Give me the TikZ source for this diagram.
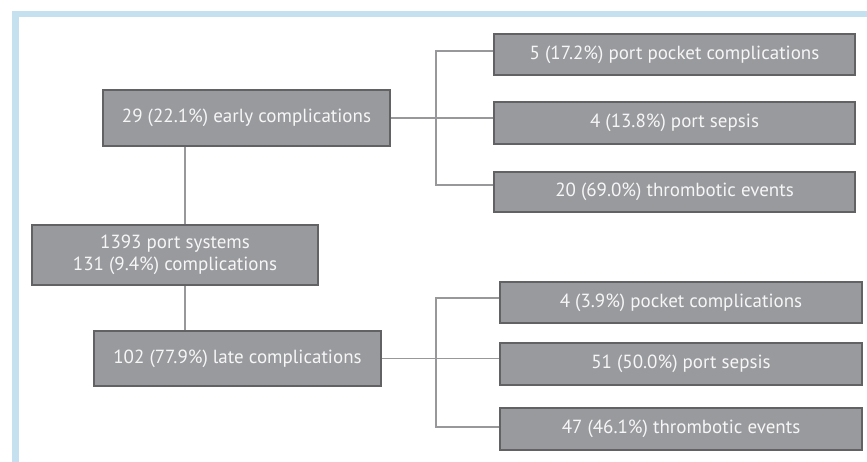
\documentclass[tikz,border=0pt]{standalone}
\usepackage{fontspec}
\setmainfont{PT Sans}
\usetikzlibrary{positioning}

\definecolor{framecol}{RGB}{197,225,239}
\definecolor{boxfill}{RGB}{153,154,158}
\definecolor{boxline}{RGB}{98,98,101}
\definecolor{linkcol}{RGB}{152,152,154}
\definecolor{txtcol}{RGB}{246,246,246}

\tikzset{
    box/.style={draw=boxline, fill=boxfill, line width=2.4pt, text=txtcol,
        inner sep=0pt, align=center, font=\fontsize{19}{22}\selectfont},
    link/.style={draw=linkcol, line width=1.8pt}
}

\begin{document}
\begin{tikzpicture}[x=1pt,y=1pt,yscale=-1,xscale=1]
        \useasboundingbox (0,0) rectangle (867,462);
        %Frame
        \fill[framecol] (12,11) rectangle (867,17);
        \fill[framecol] (12,11) rectangle (19,462);

        % Left column
        \node[box, minimum width=286.6pt, minimum height=55.6pt] (early) at (246.5,118) {29 (22.1\%) early complications};
        \node[box, minimum width=285.6pt, minimum height=59.6pt] (root) at (175,255) {1393 port systems\\131 (9.4\%) complications};
        \node[box, minimum width=286.6pt, minimum height=54.6pt] (late) at (237.5,358.5) {102 (77.9\%) late complications};

        % Early branches
        \node[box, minimum width=360.6pt, minimum height=40.6pt] (upocket) at (674.5,54.5) {5 (17.2\%) port pocket complications};
        \node[box, minimum width=360.6pt, minimum height=41.6pt] (usepsis) at (674.5,123) {4 (13.8\%) port sepsis};
        \node[box, minimum width=360.6pt, minimum height=39.6pt] (uthromb) at (674.5,192) {20 (69.0\%) thrombotic events};

        % Late branches
        \node[box, minimum width=361.6pt, minimum height=40.6pt] (lpocket) at (681,302.5) {4 (3.9\%) pocket complications};
        \node[box, minimum width=361.6pt, minimum height=41.6pt] (lsepsis) at (681,364) {51 (50.0\%) port sepsis};
        \node[box, minimum width=361.6pt, minimum height=41.6pt] (lthromb) at (681,429) {47 (46.1\%) thrombotic events};

        % Connectors
        \coordinate (stem) at (185,0);
        \coordinate (uTop) at (436,51);
        \coordinate (uBot) at (436,185);
        \coordinate (lTop) at (436,298);
        \coordinate (lBot) at (436,427);

        \draw[link] (stem |- early.south) -- (stem |- root.north);
        \draw[link] (stem |- root.south) -- (stem |- late.north);

        \draw[link] (early.east) -- (early.east -| usepsis.west);
        \draw[link] (uTop -| upocket.west) -- (uTop) -- (uBot) -- (uBot -| uthromb.west);

        \draw[link] (late.east) -- (late.east -| lsepsis.west);
        \draw[link] (lTop -| lpocket.west) -- (lTop) -- (lBot) -- (lBot -| lthromb.west);
\end{tikzpicture}
\end{document}
